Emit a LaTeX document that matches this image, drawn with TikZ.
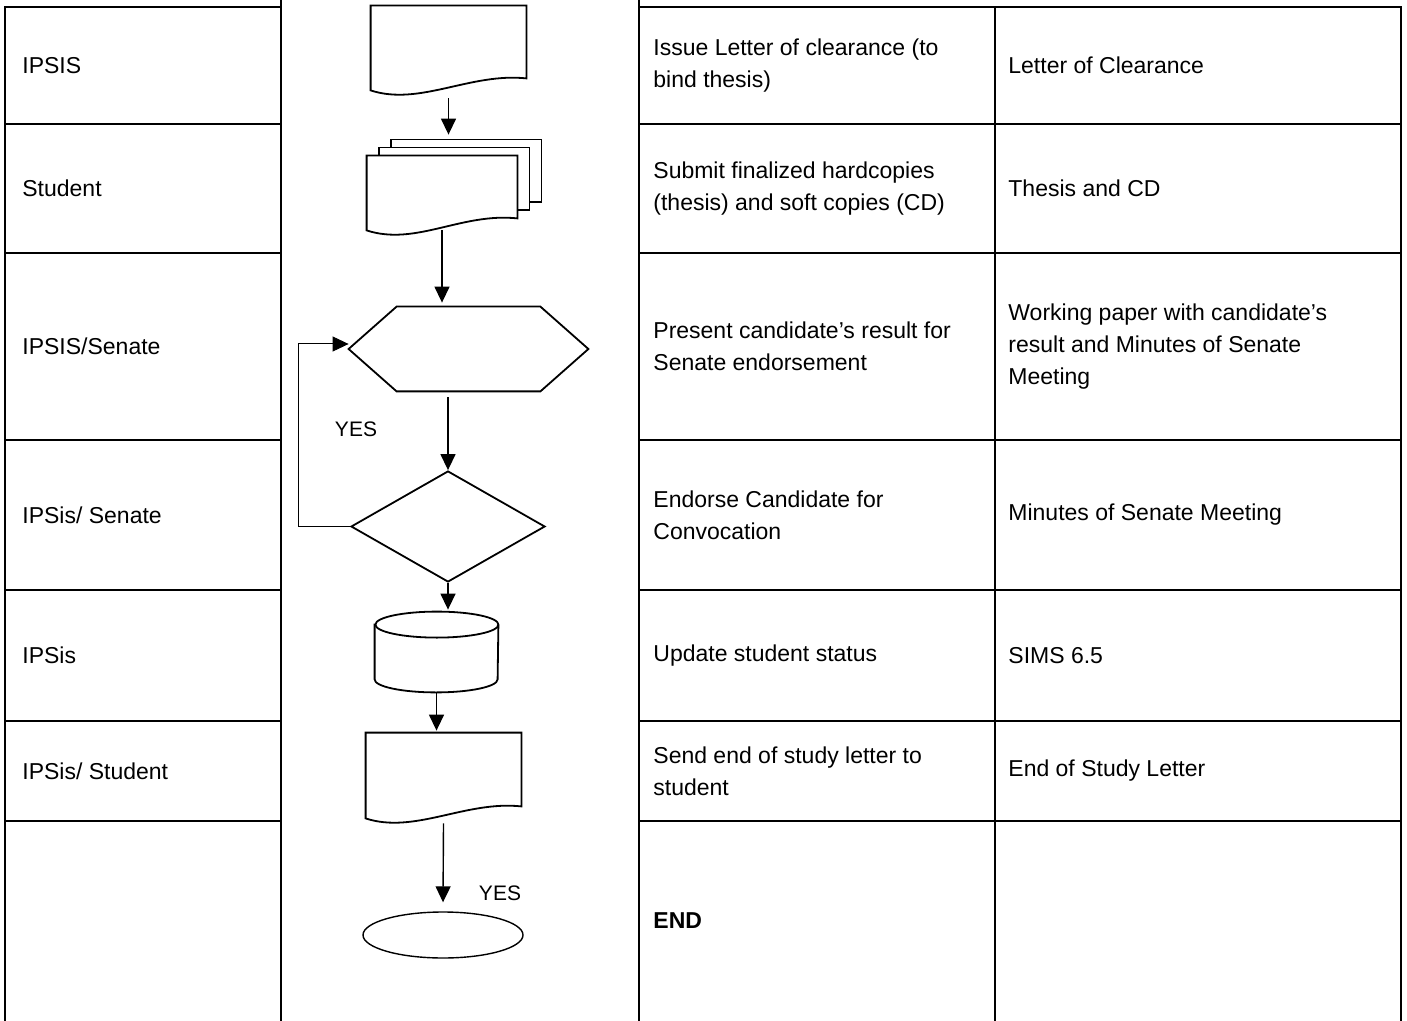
\documentclass[tikz,border=0pt]{standalone}
\usepackage{fontspec}
\setmainfont{Liberation Sans}
\usetikzlibrary{arrows.meta,shapes.geometric}

\tikzset{
  shapeline/.style={line width=0.9pt, line join=miter},
  flowarrow/.style={line width=0.7pt, -{Triangle[length=8pt,width=7.5pt]}},
  frame/.style={line width=1pt, line cap=rect},
  cell/.style={anchor=west, inner sep=0pt, align=left, font=\fontsize{11.5}{16}\selectfont},
  yeslabel/.style={inner sep=0pt, font=\fontsize{10.5}{12}\selectfont},
  box/.style={rectangle, draw=none, inner sep=0pt},
}

% document symbol round a named box
\newcommand{\docoutline}[1]{%
  \draw[shapeline, fill=white] (#1.south west) -- (#1.north west) -- (#1.north east)
    -- ([yshift=6pt]#1.south east)
    .. controls ([xshift=-28pt,yshift=9pt]#1.south east) and ([xshift=24.5pt,yshift=-8pt]#1.south west)
    .. (#1.south west) -- cycle;}

\begin{document}
\begin{tikzpicture}[x=0.5pt, y=-0.5pt]
    \useasboundingbox (0,0) rectangle (1407,1021);

    % table
    \foreach \y in {7,124,253,440,590,721,821} {
        \draw[frame] (5,\y) -- (281,\y);
        \draw[frame] (639,\y) -- (1401,\y);
    }
    \draw[frame] (5,7) -- (5,1021);
    \draw[frame] (281,0) -- (281,1021);
    \draw[frame] (639,0) -- (639,1021);
    \draw[frame] (995,7) -- (995,1021);
    \draw[frame] (1401,7) -- (1401,1021);

    \node[cell] (who1) at (22,65.5) {IPSIS};
    \node[cell] (who2) at (22,188.5) {Student};
    \node[cell] (who3) at (22,346.5) {IPSIS/Senate};
    \node[cell] (who4) at (22,515) {IPSis/ Senate};
    \node[cell] (who5) at (22,655.5) {IPSis};
    \node[cell] (who6) at (22,771) {IPSis/ Student};

    \node[cell] (task1) at (653,65.5) {Issue Letter of clearance (to\\bind thesis)};
    \node[cell] (task2) at (653,188.5) {Submit finalized hardcopies\\(thesis) and soft copies (CD)};
    \node[cell] (task3) at (653,346.5) {Present candidate’s result for\\Senate endorsement};
    \node[cell] (task4) at (653,515) {Endorse Candidate for\\Convocation};
    \node[cell] (task5) at (653,655.5) {Update student status};
    \node[cell] (task6) at (653,771) {Send end of study letter to\\student};
    \node[cell, font=\fontsize{11.5}{16}\selectfont\bfseries] (task7) at (653,921) {END};

    \node[cell] (rec1) at (1008,65.5) {Letter of Clearance};
    \node[cell] (rec2) at (1008,188.5) {Thesis and CD};
    \node[cell] (rec3) at (1008,346.5) {Working paper with candidate’s\\result and Minutes of Senate\\Meeting};
    \node[cell] (rec4) at (1008,515) {Minutes of Senate Meeting};
    \node[cell] (rec5) at (1008,655.5) {SIMS 6.5};
    \node[cell] (rec6) at (1008,771) {End of Study Letter};

    % flowchart
    \node[box, minimum width=77.5pt, minimum height=42pt] (letter) at (448.5,48) {};
    \node[box, minimum width=75pt, minimum height=37pt] (hardcopy) at (442,193) {};
    \node[box, minimum width=119.5pt, minimum height=42pt] (present) at (468.5,349) {};
    \node[diamond, draw, shapeline, inner sep=0pt, minimum width=97pt, minimum height=55.5pt] (endorse) at (448,526.5) {};
    \node[box, minimum width=61.5pt, minimum height=40pt] (sims) at (436.5,652) {};
    \node[box, minimum width=77.5pt, minimum height=42.5pt] (endletter) at (443.5,775.5) {};
    \node[ellipse, draw, line width=0.7pt, inner sep=0pt, minimum width=80pt, minimum height=23pt] (finish) at (443,935) {};

    \docoutline{letter}
    \draw[shapeline, fill=white] ([xshift=12pt,yshift=8pt]hardcopy.north west) rectangle ([xshift=12pt,yshift=14pt]hardcopy.south east);
    \draw[shapeline, fill=white] ([xshift=6pt,yshift=4pt]hardcopy.north west) rectangle ([xshift=6pt,yshift=10pt]hardcopy.south east);
    \docoutline{hardcopy}
    \draw[shapeline] (present.west) -- ([xshift=24pt]present.north west) -- ([xshift=-24pt]present.north east)
        -- (present.east) -- ([xshift=-24pt]present.south east) -- ([xshift=24pt]present.south west) -- cycle;
    \draw[shapeline] ([yshift=-6.5pt]sims.north west) -- ([yshift=6.5pt]sims.south west)
        arc[start angle=180, end angle=360, x radius=30.75pt, y radius=6.5pt]
        -- ([yshift=-6.5pt]sims.north east)
        arc[start angle=0, end angle=180, x radius=30.75pt, y radius=6.5pt] -- cycle;
    \draw[shapeline] ([yshift=-6.5pt]sims.north east) arc[start angle=0, end angle=-180, x radius=30.75pt, y radius=6.5pt];
    \docoutline{endletter}

    \draw[flowarrow] ([yshift=-4pt]letter.south) -- ([yshift=10.5pt]letter.south |- hardcopy.north);
    \draw[flowarrow] (hardcopy.south) -- ([yshift=2pt]hardcopy.south |- present.north);
    \draw[flowarrow] ([yshift=-3pt]present.south -| endorse.north) -- (endorse.north);
    \draw[flowarrow] (endorse.south) -- ([yshift=1pt]endorse.south |- sims.north);
    \draw[flowarrow] (sims.south) -- ([yshift=1pt]sims.south |- endletter.north);
    \draw[flowarrow] ([yshift=-2.5pt]endletter.south) -- ([yshift=4.5pt]finish.north);
    \draw[flowarrow, line width=0.5pt] (endorse.west) -- ++(-26pt,0) |- ([yshift=2.5pt]present.west);

    \node[yeslabel] (yes1) at (356,429) {YES};
    \node[yeslabel] (yes2) at (500,893) {YES};
\end{tikzpicture}
\end{document}
